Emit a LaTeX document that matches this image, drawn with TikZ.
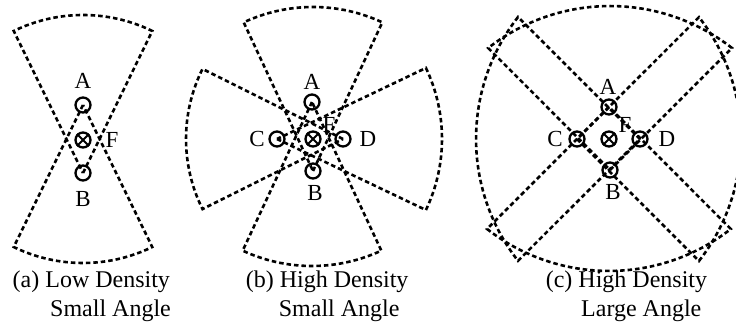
\documentclass[tikz,border=0pt]{standalone}
\usepackage{fontspec}
\setmainfont{Liberation Serif}
\begin{document}
\begin{tikzpicture}[x=1pt,y=1pt,
  sect/.style={dash pattern=on 4.5pt off 3pt, line width=2.6pt},
  pt/.style={circle, draw, line width=2.3pt, minimum size=15pt, inner sep=0pt},
  lbl/.style={font=\fontsize{23}{23}\selectfont, inner sep=0pt},
  captext/.style={font=\fontsize{24}{24}\selectfont, inner sep=0pt, anchor=base west}]
\useasboundingbox (0,0) rectangle (736,329);
\clip (0,0) rectangle (736,329);

% ---------- panel (a) ----------
\node[pt] (aA) at (83,224) {};
\node[pt] (aF) at (83,189) {};
\node[pt] (aB) at (83,156) {};
\draw[line width=1.9pt] (aF.north west) -- (aF.south east) (aF.north east) -- (aF.south west);
\draw[sect] (aB.center) -- ++(64:158) arc[start angle=64, end angle=116, radius=158] -- cycle;
\draw[sect] (aA.center) -- ++(244:158) arc[start angle=244, end angle=296, radius=158] -- cycle;
\node[lbl] (aAl) at (83,248) {A};
\node[lbl] (aBl) at (83,130) {B};
\node[lbl] (aFl) at (112,189) {F};

% ---------- panel (b) ----------
\node[pt] (bA) at (312,227) {};
\node[pt] (bF) at (313,190) {};
\node[pt] (bB) at (313,158) {};
\node[pt] (bC) at (277,190) {};
\node[pt] (bD) at (343,190) {};
\draw[line width=1.9pt] (bF.north west) -- (bF.south east) (bF.north east) -- (bF.south west);
\draw[sect] (bB.center) -- ++(65:164) arc[start angle=65, end angle=115, radius=164] -- cycle;
\draw[sect] (bA.center) -- ++(245:164) arc[start angle=245, end angle=295, radius=164] -- cycle;
\draw[sect] (bD.center) -- ++(153.5:157) arc[start angle=153.5, end angle=206.5, radius=157] -- cycle;
\draw[sect] (bC.center) -- ++(-25.5:165) arc[start angle=-25.5, end angle=25.5, radius=165] -- cycle;
\node[lbl] (bAl) at (312,247) {A};
\node[lbl] (bBl) at (315,136) {B};
\node[lbl] (bCl) at (257,190) {C};
\node[lbl] (bDl) at (368,190) {D};
\node[lbl] (bFl) at (329,204) {F};

% ---------- panel (c) ----------
\node[pt] (cA) at (609,222) {};
\node[pt] (cF) at (609,190) {};
\node[pt] (cB) at (610,159) {};
\node[pt] (cC) at (577,190) {};
\node[pt] (cD) at (640,190) {};
\draw[line width=1.9pt] (cF.north west) -- (cF.south east) (cF.north east) -- (cF.south west);
\draw[sect] (cB.center) -- ++(45:172.5) arc[start angle=52, end angle=128, radius=198] -- cycle;
\draw[sect] (cA.center) -- ++(225:172.5) arc[start angle=232, end angle=308, radius=198] -- cycle;
\draw[sect] (cD.center) -- ++(135:172.5) arc[start angle=142, end angle=218, radius=198] -- cycle;
\draw[sect] (cC.center) -- ++(-45:172.5) arc[start angle=-38, end angle=38, radius=198] -- cycle;
\node[lbl] (cAl) at (608,242) {A};
\node[lbl] (cBl) at (613,137) {B};
\node[lbl] (cCl) at (555,190) {C};
\node[lbl] (cDl) at (667,190) {D};
\node[lbl] (cFl) at (625,204) {F};

% ---------- captions ----------
\node[captext] (capa1) at (12.5,41) {(a) Low Density};
\node[captext] (capa2) at (50,12) {Small Angle};
\node[captext] (capb1) at (245.6,41) {(b) High Density};
\node[captext] (capb2) at (278.7,12) {Small Angle};
\node[captext] (capc1) at (545.6,41) {(c) High Density};
\node[captext] (capc2) at (581,12) {Large Angle};
\end{tikzpicture}
\end{document}
